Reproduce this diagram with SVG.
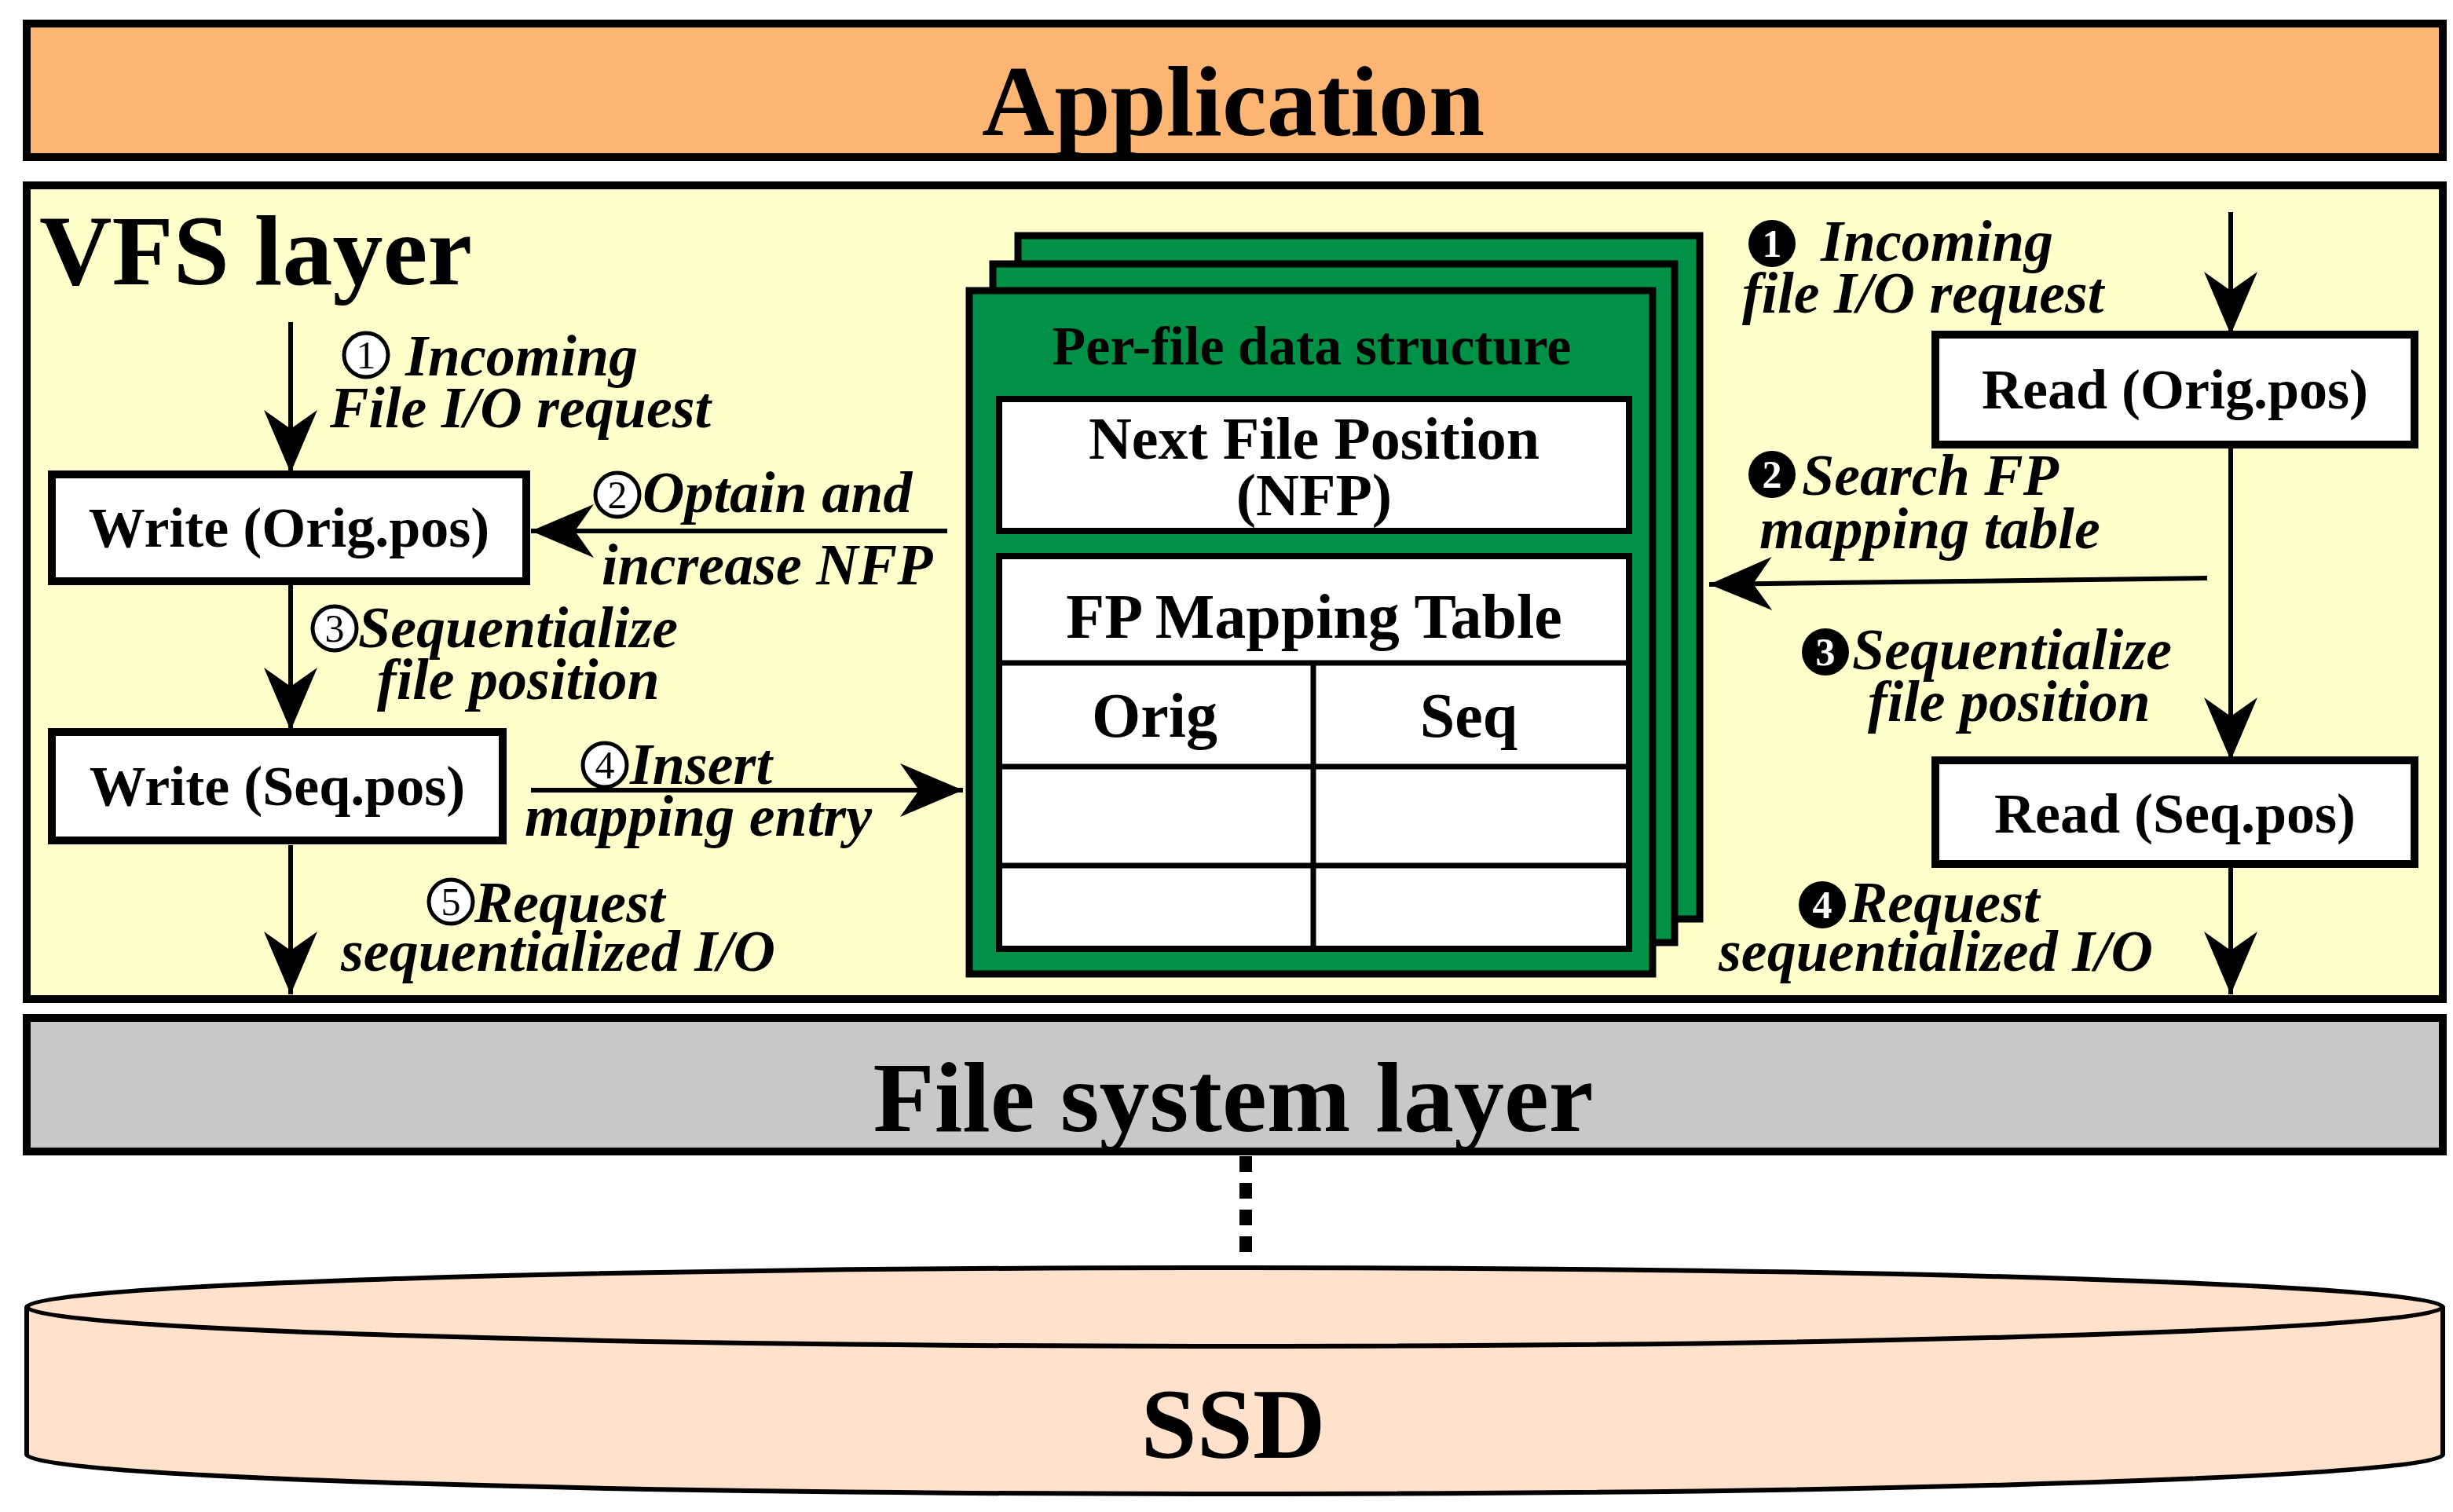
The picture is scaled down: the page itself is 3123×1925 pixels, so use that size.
<svg xmlns="http://www.w3.org/2000/svg" width="3123" height="1925" viewBox="0 0 3123 1925">
<defs>
<marker id="ah" markerUnits="userSpaceOnUse" markerWidth="90" markerHeight="80" viewBox="-85 -40 90 80" refX="0" refY="0" orient="auto">
<path d="M0,0 L-80,-34 L-56,0 L-80,34 Z" fill="#000"/>
</marker>
</defs>
<style>
text{font-family:"Liberation Serif","Times New Roman",serif;font-weight:bold;fill:#000}
.big{font-size:128px}
.box{fill:#fff;stroke:#000;stroke-width:10}
.bt{font-size:72px;text-anchor:middle}
.lbl{font-size:74px;font-style:italic}
.conn{stroke:#000;stroke-width:6;fill:none;marker-end:url(#ah)}
.cw{fill:#fff;stroke:#000;stroke-width:5}
.cb{fill:#000}
.nw{font-size:50px;text-anchor:middle;font-weight:normal}
.nb{font-size:50px;text-anchor:middle;fill:#fff}
.g{fill:#009147;stroke:#000;stroke-width:9}
.wt{fill:#fff;stroke:#000;stroke-width:8}
</style>
<rect width="3123" height="1925" fill="#fff"/>
<g id="application"><rect x="34" y="30" width="3076" height="170" fill="#FDB574" stroke="#000" stroke-width="10"/><text class="big" x="1570" y="172" text-anchor="middle">Application</text></g>
<g id="vfs"><rect x="34" y="236" width="3076" height="1036" fill="#FFFFCC" stroke="#000" stroke-width="10"/><text class="big" x="50" y="362">VFS layer</text></g>
<g id="fs"><rect x="34" y="1296" width="3076" height="170" fill="#C8C8C8" stroke="#000" stroke-width="10"/><text class="big" x="1570" y="1440" text-anchor="middle">File system layer</text></g>
<g id="ssd">
<path d="M34,1664 L34,1852 A1538,50 0 0 0 3110,1852 L3110,1664" fill="#FFE1CC" stroke="#000" stroke-width="6"/>
<ellipse cx="1572" cy="1664" rx="1538" ry="50" fill="#FFE1CC" stroke="#000" stroke-width="6"/>
<text class="big" x="1570" y="1856" text-anchor="middle">SSD</text></g>
<g id="perfile">
<rect class="g" x="1296" y="300" width="868" height="870"/>
<rect class="g" x="1264" y="336" width="868" height="864"/>
<rect class="g" x="1234" y="370" width="870" height="870"/>
<text x="1670" y="464" font-size="70" text-anchor="middle">Per-file data structure</text>
<rect class="wt" x="1272" y="508" width="802" height="168"/>
<text x="1673" y="584" font-size="76" text-anchor="middle">Next File Position</text>
<text x="1673" y="656" font-size="76" text-anchor="middle">(NFP)</text>
<rect class="wt" x="1272" y="708" width="802" height="500"/>
<text x="1673" y="812" font-size="80" text-anchor="middle">FP Mapping Table</text>
<path d="M1272,844 H2074 M1272,976 H2074 M1272,1102 H2074 M1672,844 V1208" stroke="#000" stroke-width="7"/>
<text x="1470" y="938" font-size="80" text-anchor="middle">Orig</text>
<text x="1870" y="938" font-size="80" text-anchor="middle">Seq</text>
</g>
<g id="write-orig"><rect class="box" x="66" y="604" width="604" height="136"/><text class="bt" x="368" y="696">Write (Orig.pos)</text></g>
<g id="write-seq"><rect class="box" x="66" y="932" width="574" height="138"/><text class="bt" x="353" y="1025">Write (Seq.pos)</text></g>
<g id="read-orig"><rect class="box" x="2464" y="426" width="610" height="140"/><text class="bt" x="2769" y="520">Read (Orig.pos)</text></g>
<g id="read-seq"><rect class="box" x="2464" y="968" width="610" height="132"/><text class="bt" x="2769" y="1060">Read (Seq.pos)</text></g>
<g id="dots"><line x1="1586" y1="1472" x2="1586" y2="1600" stroke="#000" stroke-width="16" stroke-dasharray="20,14"/></g>
<g id="connectors">
<line class="conn" x1="370" y1="410" x2="370" y2="602"/>
<line class="conn" x1="370" y1="740" x2="370" y2="930"/>
<line class="conn" x1="370" y1="1076" x2="370" y2="1266"/>
<line class="conn" x1="1206" y1="676" x2="676" y2="676"/>
<line class="conn" x1="676" y1="1006" x2="1226" y2="1006"/>
<line class="conn" x1="2840" y1="270" x2="2840" y2="426"/>
<line class="conn" x1="2840" y1="566" x2="2840" y2="968"/>
<line class="conn" x1="2840" y1="1100" x2="2840" y2="1266"/>
<line class="conn" x1="2810" y1="736" x2="2176" y2="744"/>
</g>
<g id="labels">
<circle class="cw" cx="466" cy="452" r="28"/><text class="nw" x="466" y="469">1</text>
<text class="lbl" x="516" y="478">Incoming</text><text class="lbl" x="420" y="544">File I/O request</text>
<circle class="cw" cx="786" cy="630" r="28"/><text class="nw" x="786" y="647">2</text>
<text class="lbl" x="818" y="652">Optain and</text><text class="lbl" x="766" y="744">increase NFP</text>
<circle class="cw" cx="426" cy="800" r="28"/><text class="nw" x="426" y="817">3</text>
<text class="lbl" x="456" y="824">Sequentialize</text><text class="lbl" x="480" y="890">file position</text>
<circle class="cw" cx="770" cy="974" r="28"/><text class="nw" x="770" y="991">4</text>
<text class="lbl" x="802" y="998">Insert</text><text class="lbl" x="668" y="1064">mapping entry</text>
<circle class="cw" cx="574" cy="1148" r="28"/><text class="nw" x="574" y="1165">5</text>
<text class="lbl" x="604" y="1174">Request</text><text class="lbl" x="434" y="1236">sequentialized I/O</text>
<circle class="cb" cx="2256" cy="310" r="30"/><text class="nb" x="2256" y="327">1</text>
<text class="lbl" x="2318" y="332">Incoming</text><text class="lbl" x="2218" y="398">file I/O request</text>
<circle class="cb" cx="2256" cy="604" r="30"/><text class="nb" x="2256" y="621">2</text>
<text class="lbl" x="2294" y="630">Search FP</text><text class="lbl" x="2240" y="698">mapping table</text>
<circle class="cb" cx="2324" cy="830" r="30"/><text class="nb" x="2324" y="847">3</text>
<text class="lbl" x="2358" y="852">Sequentialize</text><text class="lbl" x="2378" y="918">file position</text>
<circle class="cb" cx="2320" cy="1152" r="30"/><text class="nb" x="2320" y="1169">4</text>
<text class="lbl" x="2354" y="1174">Request</text><text class="lbl" x="2188" y="1236">sequentialized I/O</text>
</g>
</svg>
